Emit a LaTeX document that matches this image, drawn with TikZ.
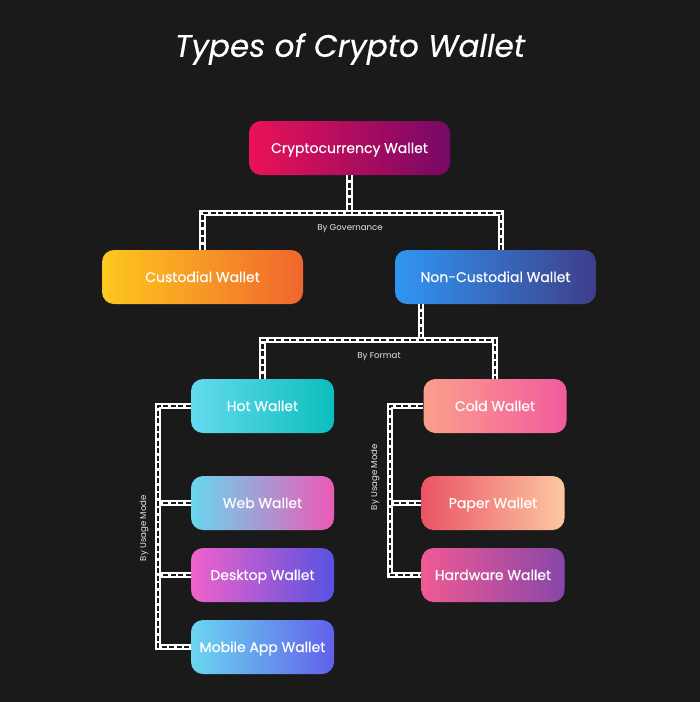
\documentclass[tikz,border=0pt]{standalone}
\usepackage{fontspec}
\setmainfont{Poppins}
\newfontfamily\medfont{Poppins}[FakeBold=0.35]
\begin{document}
\begin{tikzpicture}[x=1pt,y=-1pt]
\definecolor{bg}{RGB}{26,26,26}
\tikzset{
  box/.style={rounded corners=12pt, minimum width=201pt, minimum height=54pt, inner sep=0pt,
    text=white, font=\medfont\fontsize{14}{16}\selectfont, text height=10pt, text depth=0pt},
  sbox/.style={box, minimum width=143pt},
  conn/.style={draw=bg, line width=2.2pt, dash pattern=on 5pt off 2.5pt,
    preaction={draw=white, line width=6.5pt, solid}},
  lbl/.style={text=white!90!black, font=\fontsize{8.6}{10}\selectfont, inner sep=0pt}
}
\fill[bg] (0,0) rectangle (700,702);
\useasboundingbox (0,0) rectangle (700,702);

\node[text=white, font=\medfont\itshape\fontsize{31}{36}\selectfont, inner sep=0pt] (title) at (350,49) {Types of Crypto Wallet};

\node[box, left color={rgb,255:red,234;green,18;blue,88}, right color={rgb,255:red,118;green,8;blue,102}] (crypto) at (349.5,148) {Cryptocurrency Wallet};
\node[box, left color={rgb,255:red,254;green,200;blue,30}, right color={rgb,255:red,240;green,102;blue,46}] (cust) at (202.5,277) {Custodial Wallet};
\node[box, left color={rgb,255:red,48;green,150;blue,242}, right color={rgb,255:red,62;green,62;blue,138}] (ncust) at (495.5,277) {Non-Custodial Wallet};
\node[sbox, left color={rgb,255:red,100;green,218;blue,238}, right color={rgb,255:red,12;green,190;blue,190}] (hot) at (262.5,406) {Hot Wallet};
\node[sbox, left color={rgb,255:red,250;green,160;blue,140}, right color={rgb,255:red,242;green,90;blue,158}] (cold) at (495,406) {Cold Wallet};
\node[sbox, left color={rgb,255:red,104;green,214;blue,238}, right color={rgb,255:red,236;green,90;blue,182}] (web) at (262.5,503) {Web Wallet};
\node[sbox, left color={rgb,255:red,240;green,98;blue,202}, right color={rgb,255:red,88;green,82;blue,224}] (desk) at (262.5,575) {Desktop Wallet};
\node[sbox, left color={rgb,255:red,106;green,214;blue,240}, right color={rgb,255:red,98;green,96;blue,234}] (mob) at (262.5,647) {Mobile App Wallet};
\node[sbox, left color={rgb,255:red,234;green,84;blue,100}, right color={rgb,255:red,253;green,200;blue,162}] (paper) at (493,503) {Paper Wallet};
\node[sbox, left color={rgb,255:red,240;green,90;blue,148}, right color={rgb,255:red,136;green,70;blue,168}] (hard) at (493,575) {Hardware Wallet};

\coordinate (g1) at (0,213);
\coordinate (g2) at (0,340);
\coordinate (L1) at (158,0);
\coordinate (L2) at (390,0);

% governance
\draw[conn] (crypto.south) -- (crypto.south |- g1);
\draw[conn] (cust.north) -- (cust.north |- g1) -- ([xshift=5.5pt]ncust.north |- g1) -- ([xshift=5.5pt]ncust.north);
\node[lbl] (gov) at (350,229) {By Governance};

% format
\draw[conn] ([xshift=-74.5pt]ncust.south) -- ([xshift=-74.5pt]ncust.south |- g2);
\draw[conn] (hot.north) -- (hot.north |- g2) -- (cold.north |- g2) -- (cold.north);
\node[lbl] (fmt) at (379,357) {By Format};

% usage left
\draw[conn] (web.west) -- (web.west -| L1);
\draw[conn] (desk.west) -- (desk.west -| L1);
\draw[conn] (hot.west) -- (hot.west -| L1) -- (mob.west -| L1) -- (mob.west);
\node[lbl, rotate=90] (use1) at (144,528) {By Usage Mode};

% usage right
\draw[conn] (paper.west) -- (paper.west -| L2);
\draw[conn] (cold.west) -- (cold.west -| L2) -- (hard.west -| L2) -- (hard.west);
\node[lbl, rotate=90] (use2) at (375,477) {By Usage Mode};
\end{tikzpicture}
\end{document}
